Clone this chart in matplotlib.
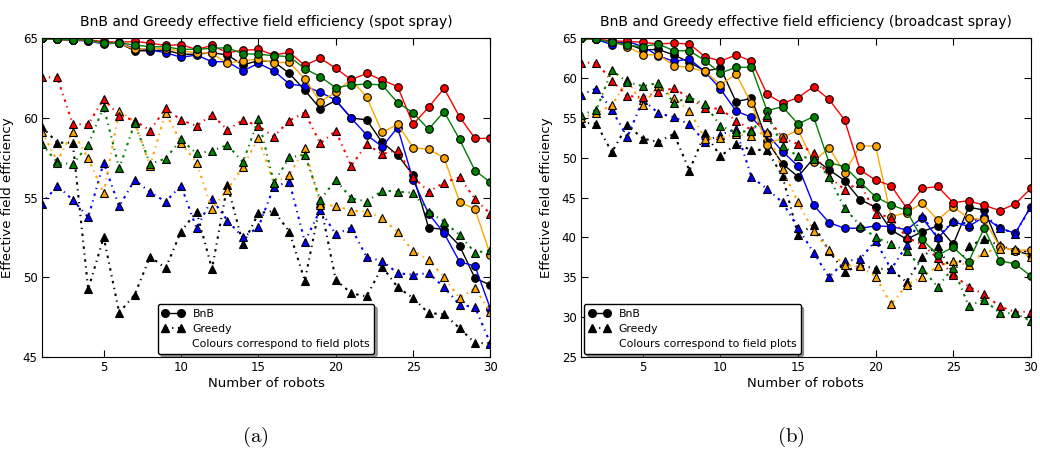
import matplotlib
matplotlib.use("Agg")
import matplotlib.pyplot as plt
from matplotlib.lines import Line2D

ROBOTS = list(range(1, 31))
COLOURS = ["black", "blue", "orange", "red", "green"]

# spot spray, BnB
spot_bnb = {
    "red":    [65.0, 64.93, 64.9, 64.9, 64.8, 64.75, 64.8, 64.7, 64.55, 64.6, 64.3, 64.55, 64.1, 64.25, 64.3,
               63.95, 64.12, 63.3, 63.75, 63.12, 62.4, 62.8, 62.38, 61.97, 59.6, 60.67, 61.86, 60.08, 58.72, 58.72],
    "green":  [65.0, 64.93, 64.9, 64.9, 64.7, 64.72, 64.58, 64.47, 64.47, 64.31, 64.31, 64.37, 64.41, 64.03, 64.0,
               63.91, 63.85, 63.1, 62.59, 61.9, 62.07, 62.13, 62.07, 60.96, 60.33, 59.29, 60.4, 58.66, 56.7, 55.96],
    "orange": [65.0, 64.93, 64.9, 64.85, 64.7, 64.7, 64.3, 64.37, 64.35, 64.2, 64.1, 64.05, 63.43, 63.6, 63.68,
               63.47, 63.49, 62.45, 61.02, 61.61, 62.43, 61.3, 59.1, 59.6, 58.14, 58.03, 57.51, 54.75, 54.27, 51.4],
    "black":  [65.0, 64.93, 64.9, 64.9, 64.7, 64.7, 64.22, 64.22, 64.27, 64.0, 64.0, 64.1, 63.95, 63.33, 63.6,
               63.53, 62.8, 61.74, 60.58, 61.1, 60.0, 59.88, 58.47, 57.68, 56.42, 53.12, 53.0, 51.99, 49.94, 49.52],
    "blue":   [65.0, 64.93, 64.88, 64.83, 64.65, 64.7, 64.37, 64.27, 64.1, 63.81, 63.95, 63.53, 63.53, 62.95, 63.43,
               62.96, 62.13, 62.0, 61.61, 61.13, 59.98, 58.94, 58.2, 59.4, 56.11, 54.0, 52.77, 50.98, 50.7, 48.02],
}
# spot spray, Greedy
spot_greedy = {
    "red":    [62.55, 62.55, 59.6, 59.6, 61.19, 60.15, 59.84, 59.21, 60.6, 59.87, 59.5, 60.2, 59.25, 59.87, 59.5,
               58.83, 59.84, 60.34, 58.41, 59.18, 57.0, 58.35, 57.74, 57.99, 56.3, 55.38, 55.94, 56.28, 54.92, 53.98],
    "green":  [58.37, 57.2, 57.1, 58.31, 60.71, 56.84, 59.66, 57.12, 57.45, 58.65, 57.78, 57.93, 58.31, 57.22, 59.92,
               55.94, 57.53, 57.68, 54.86, 56.11, 54.96, 54.75, 55.44, 55.38, 55.3, 54.12, 53.5, 52.66, 51.55, 51.7],
    "orange": [59.14, 57.3, 59.14, 57.47, 55.28, 60.46, 59.77, 57.0, 60.34, 58.46, 57.2, 54.3, 55.5, 56.95, 58.73,
               55.9, 56.42, 58.1, 54.55, 54.48, 54.19, 54.12, 53.71, 52.83, 51.66, 51.1, 50.01, 48.7, 49.32, 47.8],
    "black":  [59.46, 58.45, 58.45, 49.25, 52.52, 47.79, 48.9, 51.3, 50.57, 52.87, 54.12, 50.53, 55.8, 52.08, 54.02,
               54.17, 52.87, 49.78, 54.64, 49.84, 49.0, 48.8, 50.67, 49.38, 48.7, 47.75, 47.69, 46.81, 45.87, 45.87],
    "blue":   [54.6, 55.75, 54.86, 53.77, 57.2, 54.45, 56.11, 55.34, 54.75, 55.75, 53.08, 54.9, 53.56, 52.51, 53.14,
               55.69, 56.0, 52.24, 54.23, 52.7, 53.12, 51.26, 51.03, 50.26, 50.16, 50.26, 49.38, 48.28, 48.13, 45.84],
}
# broadcast spray, BnB
bc_bnb = {
    "red":    [65.0, 64.87, 64.7, 64.6, 64.5, 64.28, 64.4, 64.28, 62.7, 62.15, 62.9, 62.15, 58.01, 56.84, 57.55,
               58.93, 57.34, 54.75, 48.48, 47.2, 46.5, 43.7, 46.15, 46.4, 44.38, 44.6, 44.05, 43.37, 44.2, 46.15],
    "green":  [65.0, 64.87, 64.5, 64.1, 63.97, 64.28, 63.44, 63.44, 62.2, 60.62, 61.37, 61.37, 55.92, 56.42, 54.25,
               55.17, 49.4, 48.9, 46.95, 45.1, 44.1, 43.38, 39.78, 37.78, 38.78, 36.98, 41.16, 37.07, 36.69, 35.18],
    "orange": [65.0, 64.87, 64.6, 63.97, 62.93, 62.93, 61.55, 61.34, 60.84, 59.17, 60.5, 56.84, 51.6, 52.56, 53.48,
               49.52, 51.27, 48.14, 51.48, 51.48, 42.62, 43.13, 44.29, 42.2, 43.87, 42.4, 42.29, 38.86, 38.36, 38.44],
    "black":  [65.0, 64.87, 64.6, 64.32, 63.55, 63.6, 62.9, 62.0, 60.9, 61.24, 57.05, 57.47, 52.15, 49.23, 47.64,
               49.94, 48.5, 47.14, 44.75, 43.8, 40.95, 39.78, 40.74, 41.45, 39.15, 43.79, 43.45, 38.86, 38.36, 37.78],
    "blue":   [65.0, 64.87, 64.2, 64.6, 63.97, 62.8, 62.1, 62.4, 60.81, 58.64, 55.88, 55.09, 53.0, 50.78, 48.96,
               44.08, 41.87, 41.16, 41.16, 41.45, 41.37, 40.95, 42.5, 39.9, 41.99, 41.37, 42.62, 41.16, 40.53, 43.87],
}
# broadcast spray, Greedy
bc_greedy = {
    "red":    [61.94, 61.94, 59.68, 57.76, 57.6, 58.3, 58.73, 57.5, 56.3, 56.13, 54.67, 53.5, 55.17, 52.5, 51.72,
               50.63, 47.64, 46.0, 46.81, 43.0, 42.5, 40.0, 39.15, 37.4, 35.3, 33.83, 32.85, 31.35, 30.65, 30.7],
    "green":  [55.4, 56.0, 61.0, 59.5, 59.0, 59.4, 56.9, 57.6, 56.7, 54.0, 53.2, 53.4, 55.4, 51.5, 50.2,
               49.9, 47.6, 43.7, 41.5, 40.0, 39.2, 38.3, 36.1, 33.8, 36.2, 31.4, 32.2, 30.5, 30.5, 29.5],
    "orange": [55.0, 55.6, 56.6, 59.8, 56.6, 59.0, 57.5, 55.9, 52.4, 52.5, 53.0, 52.7, 53.3, 48.6, 44.4,
               40.8, 38.4, 36.5, 36.4, 35.1, 31.6, 34.0, 35.1, 36.4, 37.0, 36.5, 38.2, 38.5, 38.6, 37.5],
    "black":  [54.4, 54.3, 50.7, 54.1, 52.4, 52.0, 53.0, 48.4, 53.1, 50.2, 51.7, 51.0, 51.0, 47.7, 40.3,
               41.6, 38.3, 35.7, 36.5, 36.1, 36.0, 34.4, 37.6, 38.9, 35.5, 38.9, 39.8, 39.0, 38.4, 38.2],
    "blue":   [57.9, 58.7, 56.0, 52.6, 57.3, 55.6, 55.1, 54.2, 52.0, 52.9, 53.6, 47.6, 46.1, 44.4, 41.2,
               38.1, 35.0, 37.0, 37.3, 39.6, 36.0, 39.0, 42.7, 40.0, 42.1, 41.7, 42.9, 41.2, 40.5, 43.8],
}

TITLES = ["BnB and Greedy effective field efficiency (spot spray)",
          "BnB and Greedy effective field efficiency (broadcast spray)"]
YTICKS = [[45, 50, 55, 60, 65], [25, 30, 35, 40, 45, 50, 55, 60, 65]]
XTICKS = [5, 10, 15, 20, 25, 30]

GREEDY_LS = (0, (1.2, 2.2, 0.6, 2.2))   # fine dash-dot, looks dotted

plt.rcParams["font.family"] = "DejaVu Sans"
plt.rcParams["mathtext.fontset"] = "cm"

fig = plt.figure(figsize=(10.4, 4.55), dpi=100)
ax1 = fig.add_axes([0.0402, 0.2154, 0.4314, 0.7004])
ax2 = fig.add_axes([0.5585, 0.2154, 0.4326, 0.7004])

panels = [(ax1, spot_bnb, spot_greedy, "lower center"),
          (ax2, bc_bnb, bc_greedy, "lower left")]

for i, (ax, bnb, greedy, loc) in enumerate(panels):
    for c in COLOURS:
        ax.plot(ROBOTS, bnb[c], "-", color=c, lw=1.0, marker="o", ms=5.5,
                mfc=c, mec="black", mew=0.8)
        ax.plot(ROBOTS, greedy[c], ls=GREEDY_LS, color=c, lw=1.5, marker="^", ms=5.5,
                mfc=c, mec="black", mew=0.8)
    ax.set_xlim(1, 30)
    ax.set_ylim(YTICKS[i][0], YTICKS[i][-1])
    ax.set_xticks(XTICKS)
    ax.set_yticks(YTICKS[i])
    ax.tick_params(direction="in", top=True, right=True, length=5, labelsize=8.5, pad=3)
    ax.set_title(TITLES[i], fontsize=10, pad=9)
    ax.set_xlabel("Number of robots", fontsize=9.5, labelpad=2)
    ax.set_ylabel("Effective field efficiency", fontsize=9.5, labelpad=6)

    handles = [Line2D([], [], color="black", ls="-", lw=1.0, marker="o", ms=5.5, mfc="black", mec="black"),
               Line2D([], [], color="black", ls=GREEDY_LS, lw=1.5, marker="^", ms=5.5, mfc="black", mec="black"),
               Line2D([], [], color="none")]
    ax.legend(handles, ["BnB", "Greedy", "Colours correspond to field plots"], loc=loc,
              fontsize=7.8, numpoints=2, shadow=True, fancybox=True, framealpha=1,
              edgecolor="black", borderaxespad=0.3, handlelength=2.0)

fig.text(0.2455, 0.04, r"$\mathrm{(a)}$", ha="center", va="center", fontsize=15)
fig.text(0.76, 0.04, r"$\mathrm{(b)}$", ha="center", va="center", fontsize=15)

fig.savefig("out.png", dpi=100, facecolor="white")
